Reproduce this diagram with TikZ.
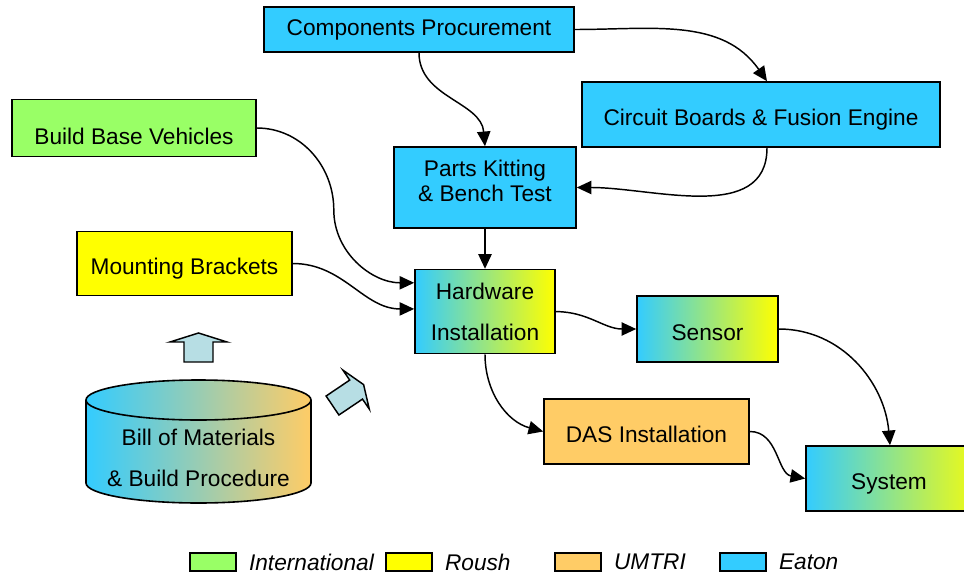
\documentclass[tikz,border=0pt]{standalone}
\usepackage{fontspec}
\setmainfont{Liberation Sans}
\usetikzlibrary{arrows.meta,positioning}
\definecolor{eaton}{RGB}{51,204,255}
\definecolor{roush}{RGB}{255,255,0}
\definecolor{umtri}{RGB}{255,204,102}
\definecolor{intl}{RGB}{153,255,102}
\definecolor{hollow}{RGB}{183,222,228}
\begin{document}
\begin{tikzpicture}[x=0.75pt,y=0.75pt,>={Triangle[length=11pt,width=10pt]},
                every node/.style={font=\fontsize{17}{21}\selectfont, align=center},
                box/.style={draw, rectangle, line width=1.2pt, inner sep=2pt},
                oneline/.style={text height=16.7pt, text depth=0pt},
                eatonbox/.style={box, fill=eaton},
                roushbox/.style={box, fill=roush},
                umtribox/.style={box, fill=umtri},
                intlbox/.style={box, fill=intl},
                mixed/.style={box, left color=eaton, right color=roush},
                flow/.style={->, line width=1.1pt},
                hint/.style={draw, line width=1.1pt, fill=hollow},
                legendbox/.style={draw, line width=1.2pt, minimum width=34.5pt, minimum height=13.5pt, inner sep=0pt},
                legendtext/.style={font=\fontsize{17}{21}\selectfont\itshape, inner sep=0pt}
                ]
                \useasboundingbox (0,0) rectangle (964,-575);
                \node[eatonbox, minimum width=232.5pt, minimum height=33.75pt] (comp) at (419,-29.5) {Components Procurement};
                \node[eatonbox, oneline, minimum width=268.5pt, minimum height=48.75pt] (circuit) at (761,-114.5) {Circuit Boards \& Fusion Engine};
                \node[intlbox, text height=24.2pt, text depth=0pt, minimum width=183pt, minimum height=42.75pt] (build) at (134,-128) {Build Base Vehicles};
                \node[eatonbox, minimum width=136.5pt, minimum height=60.75pt] (kitting) at (485,-187.5) {Parts Kitting\\[-2pt]\& Bench Test\\[-11pt]};
                \node[roushbox, oneline, minimum width=161.25pt, minimum height=48pt] (mounting) at (184.5,-263.5) {Mounting Brackets};
                \node[mixed, minimum width=105pt, minimum height=63pt, below=30pt of kitting] (hardware) {Hardware\\[10pt]Installation};
                \node[mixed, oneline, minimum width=105.75pt, minimum height=49.5pt] (sensor) at (707.5,-329) {Sensor};
                \node[umtribox, oneline, minimum width=153.75pt, minimum height=48.75pt] (das) at (646.5,-431.5) {DAS Installation};
                \node[mixed, oneline, minimum width=138pt, minimum height=48.75pt] (system) at (898,-478.5) {System\hspace*{13.5pt}};

                \shade[left color=eaton, right color=umtri] (86,-400) arc[start angle=180, end angle=0, x radius=84.375pt, y radius=15pt] -- (311,-483) arc[start angle=0, end angle=-180, x radius=84.375pt, y radius=15pt] -- cycle;
                \draw[line width=1.2pt] (86,-400) arc[start angle=180, end angle=0, x radius=84.375pt, y radius=15pt] -- (311,-483) arc[start angle=0, end angle=-180, x radius=84.375pt, y radius=15pt] -- cycle;
                \draw[line width=1.2pt] (86,-400) arc[start angle=180, end angle=360, x radius=84.375pt, y radius=15pt];
                \node (bom) at (198.5,-458) {Bill of Materials\\[10pt]\& Build Procedure};

                \draw[hint] (184,-362) -- (213,-362) -- (213,-342) -- (227,-342) -- (198.5,-333) -- (170,-342) -- (184,-342) -- cycle;
                \draw[hint] (326.1,-396) -- (349.7,-380.1) -- (342.9,-370.1) -- (363.6,-384.6) -- (369.3,-409.1) -- (362.5,-399.1) -- (338.9,-415) -- cycle;

                \draw[flow] (comp.east) to[out=0, in=125] ([xshift=4.5pt]circuit.north);
                \draw[flow] (comp.south) to[out=-90, in=95] (kitting.north);
                \draw[flow] ([xshift=4.5pt]circuit.south) to[out=-90, in=0] (kitting.east);
                \draw[flow] (kitting.south) -- (hardware.north);
                \draw[flow] (build.east) to[out=0, in=90] ++(77,-82) to[out=-90, in=180] ([yshift=-10.5pt]hardware.north west);
                \draw[flow] (mounting.east) to[out=0, in=180] ([yshift=2pt]hardware.west);
                \draw[flow] (hardware.east) to[out=0, in=180] (sensor.west);
                \draw[flow] (hardware.south) to[out=-90, in=165] (das.west);
                \draw[flow] (sensor.east) to[out=0, in=95] ([xshift=-6pt]system.north);
                \draw[flow] (das.east) to[out=0, in=170] (system.west);

                \node[legendbox, fill=intl] (lgintl) at (213,-562) {};
                \node[legendtext, right=9pt of lgintl] (txintl) {International};
                \node[legendbox, fill=roush] (lgroush) at (409,-562) {};
                \node[legendtext, right=9pt of lgroush] (txroush) {Roush};
                \node[legendbox, fill=umtri] (lgumtri) at (578,-562) {};
                \node[legendtext, right=9pt of lgumtri] (txumtri) {UMTRI};
                \node[legendbox, fill=eaton] (lgeaton) at (743,-562) {};
                \node[legendtext, right=9pt of lgeaton] (txeaton) {Eaton};
        \end{tikzpicture}
\end{document}
